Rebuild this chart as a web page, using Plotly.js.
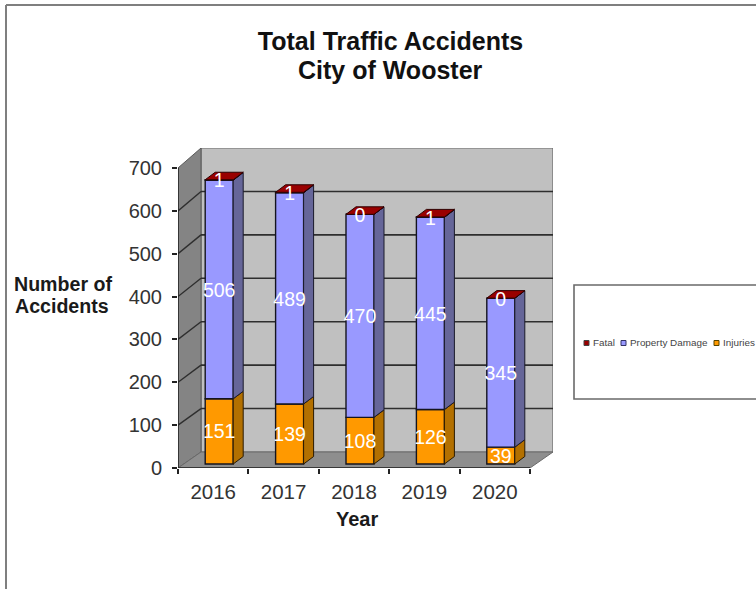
<!DOCTYPE html>
<html>
<head>
<meta charset="utf-8">
<script src="https://cdn.plot.ly/plotly-3.0.1.min.js"></script>
<style>html,body{margin:0;padding:0;background:#fff;overflow:hidden}#chart{width:756px;height:589px}</style>
</head>
<body>
<div id="chart"></div>
<script>
const years = [2016, 2017, 2018, 2019, 2020];
const injuries = [151, 139, 108, 126, 39];
const propertyDamage = [506, 489, 470, 445, 345];
const fatal = [1, 1, 0, 1, 0];
const yTicks = [0, 100, 200, 300, 400, 500, 600, 700];

const W = 756, H = 589;
const FONT = '"Liberation Sans", Arial, sans-serif';
// plot frame in page pixels
const L = 178, R = 553, T = 148, B = 468;
const pxX = 70.4, pxY = 300 / 700;
const xMin = 2015.5, xMax = xMin + (R - L) / pxX, yMax = (B - T) / pxY;
const px = x => x / W, py = y => 1 - y / H;

// depth of the pseudo-3D box, in units of the front-plane axes
const wallDX = 23 / pxX, wallDY = 16 / pxY, wallScale = 304 / 300;
// the bars stand on a plane inside the box, which has its own slightly larger scale
const barPxY = 0.432, barFloor = 464;
const barDX = 10 / pxX, barDY = 7.5 / barPxY;
const barW = 28 / pxX, barShift = 6 / pxX;
const centers = years.map(y => y + barShift);

const baseInj = years.map(() => 0);
const basePD = baseInj.map((b, i) => b + injuries[i]);
const baseFat = basePD.map((b, i) => b + propertyDamage[i]);
const tops = baseFat.map((b, i) => b + fatal[i]);

function sideFace(bases, vals, color, line) {
  const x = [], y = [];
  centers.forEach((c, i) => {
    const r = c + barW / 2;
    x.push(r, r + barDX, r + barDX, r, r, null);
    y.push(bases[i], bases[i] + barDY, bases[i] + vals[i] + barDY, bases[i] + vals[i], bases[i], null);
  });
  return {type: 'scatter', mode: 'lines', yaxis: 'y2', x, y, fill: 'toself', fillcolor: color,
          line: {color: line, width: 1}, showlegend: false, hoverinfo: 'skip'};
}
function topFace(topVals, color, line) {
  const x = [], y = [];
  centers.forEach((c, i) => {
    const l = c - barW / 2, r = c + barW / 2;
    x.push(l, l + barDX, r + barDX, r, l, null);
    y.push(topVals[i], topVals[i] + barDY, topVals[i] + barDY, topVals[i], topVals[i], null);
  });
  return {type: 'scatter', mode: 'lines', yaxis: 'y2', x, y, fill: 'toself', fillcolor: color,
          line: {color: line, width: 1}, showlegend: false, hoverinfo: 'skip'};
}
function front(name, bases, vals, color) {
  return {type: 'bar', name, yaxis: 'y2', x: centers, y: vals, base: bases, width: barW,
          marker: {color, line: {color: '#14141f', width: 1.4}}, showlegend: false,
          hovertemplate: name + ': %{y}<extra></extra>'};
}
function labels(bases, vals, nudge) {
  return {type: 'scatter', mode: 'text', yaxis: 'y2', x: centers, y: vals.map((v, i) => bases[i] + v / 2 + nudge),
          text: vals.map(String), textposition: 'middle center',
          textfont: {family: FONT, size: 19.5, color: '#ffffff'}, showlegend: false, hoverinfo: 'skip'};
}

const data = [
  front('Injuries', baseInj, injuries, '#ff9900'),
  front('Property Damage', basePD, propertyDamage, '#9999ff'),
  front('Fatal', baseFat, fatal, '#990000'),
  sideFace(baseInj, injuries, '#b37000', '#2a1a00'),
  sideFace(basePD, propertyDamage, '#666699', '#1a1a2a'),
  sideFace(baseFat, fatal, '#660000', '#200000'),
  topFace(tops, '#990000', '#300000'),
  labels(baseInj, injuries, -5),
  labels(basePD, propertyDamage, -6),
  labels(baseFat, fatal, -6)
];

const shapes = [];
const poly = (pts, fill, line, w) => shapes.push({type: 'path', xref: 'x', yref: 'y', layer: 'below',
  path: 'M' + pts.map(p => p[0] + ',' + p[1]).join('L') + 'Z', fillcolor: fill, line: {color: line, width: w}});
const seg = (x0, y0, x1, y1, color, w) => shapes.push({type: 'line', xref: 'x', yref: 'y', layer: 'below',
  x0, y0, x1, y1, line: {color, width: w}});
const xEnd = xMin + (530 - L) / pxX, yTop = 700;
const backX0 = xMin + wallDX, backX1 = xEnd + wallDX;
const backY = v => wallDY + v * wallScale;

poly([[backX0, backY(0)], [backX1, backY(0)], [backX1, yMax], [backX0, yMax]], '#c0c0c0', '#6a6a6a', 1.2);
poly([[xMin, 0], [backX0, backY(0)], [backX0, yMax], [xMin, yTop]], '#848484', '#5a5a5a', 1);
poly([[xMin, 0], [xEnd, 0], [backX1, backY(0)], [backX0, backY(0)]], '#8e8e8e', '#6a6a6a', 1);
yTicks.slice(1, -1).forEach(v => {
  seg(xMin, v, backX0, backY(v), '#2e2e2e', 1.4);
  seg(backX0, backY(v), backX1, backY(v), '#2e2e2e', 1.6);
});
seg(xMin, 0, xMin, yTop, '#222222', 1.5);
seg(xMin, 0, xEnd, 0, '#222222', 1.5);

// outer frame and legend box, page-anchored
const pageLine = (x0, y0, x1, y1, color, w) => shapes.push({type: 'line', xref: 'paper', yref: 'paper',
  x0: px(x0), y0: py(y0), x1: px(x1), y1: py(y1), line: {color, width: w}});
pageLine(6, 5, W, 5, '#7f7f7f', 2);
pageLine(6, 5, 6, H, '#7f7f7f', 2);
shapes.push({type: 'rect', xref: 'paper', yref: 'paper', x0: px(574), y0: py(399), x1: px(W + 5), y1: py(285),
  fillcolor: '#ffffff', line: {color: '#6a6a6a', width: 1.6}});

const legendItems = [
  {name: 'Fatal', sw: 584, color: '#990000', edge: '#444'},
  {name: 'Property Damage', sw: 621, color: '#9999ff', edge: '#333366'},
  {name: 'Injuries', sw: 714, color: '#ff9900', edge: '#554400'}
];
const annotations = [];
legendItems.forEach(it => {
  shapes.push({type: 'rect', xref: 'paper', yref: 'paper', x0: px(it.sw), x1: px(it.sw + 5),
    y0: py(345.5), y1: py(340.5), fillcolor: it.color, line: {color: it.edge, width: 1}});
  annotations.push({xref: 'paper', yref: 'paper', x: px(it.sw + 7), y: py(342.5), xanchor: 'left', yanchor: 'middle',
    text: it.name, showarrow: false, font: {family: FONT, size: 9.9, color: '#444444'}});
});
const boldNote = (text, x, y, size, color) => annotations.push({xref: 'paper', yref: 'paper', x: px(x), y: py(y),
  xanchor: 'center', yanchor: 'middle', text: '<b>' + text + '</b>', showarrow: false,
  font: {family: FONT, size, color}});
boldNote('City of Wooster', 390.5, 70, 25, '#111111');
boldNote('Number of', 63, 284, 19.6, '#1a1a1a');
boldNote('Accidents', 62, 306, 19.6, '#1a1a1a');
boldNote('Year', 357, 519, 20, '#1a1a1a');

const layout = {
  width: W, height: H,
  margin: {l: 0, r: 0, t: 0, b: 0},
  paper_bgcolor: '#ffffff', plot_bgcolor: 'rgba(0,0,0,0)',
  barmode: 'overlay', showlegend: false, hovermode: 'closest',
  title: {text: '<b>Total Traffic Accidents</b>',
    font: {family: FONT, size: 25, color: '#111111'}, x: px(390.5), xanchor: 'center', y: py(41), yanchor: 'middle'},
  xaxis: {domain: [px(L), px(R)], range: [xMin, xMax], zeroline: false, showgrid: false, showline: false,
    tickmode: 'array', tickvals: years, ticktext: years.map(String), ticks: '', ticklen: 0,
    ticklabelstandoff: 9,
    tickfont: {family: FONT, size: 20.5, color: '#333333'},
    minor: {tick0: 2015.5, dtick: 1, ticks: 'outside', ticklen: 5, tickcolor: '#222222', tickwidth: 1.5, showgrid: false}},
  yaxis: {domain: [py(B), py(T)], range: [0, yMax], zeroline: false, showgrid: false, showline: false,
    tickmode: 'array', tickvals: yTicks, ticks: 'outside', ticklen: 5, tickcolor: '#222222', tickwidth: 1.5,
    ticklabelstandoff: 6,
    tickfont: {family: FONT, size: 20, color: '#333333'}},
  yaxis2: {overlaying: 'y', side: 'left', visible: false, fixedrange: true,
    range: [(barFloor - B) / barPxY, (barFloor - T) / barPxY]},
  shapes, annotations
};
Plotly.newPlot('chart', data, layout, {displayModeBar: false, responsive: false});
</script>
</body>
</html>
